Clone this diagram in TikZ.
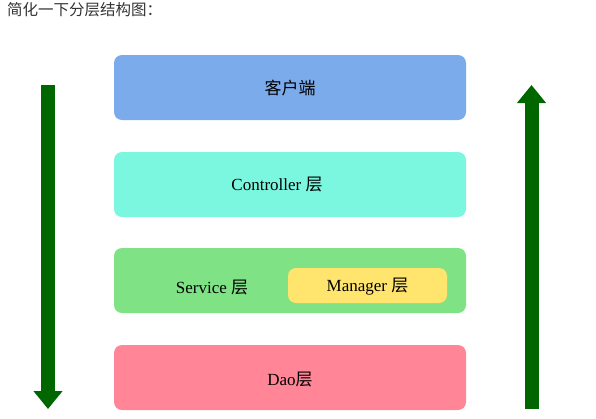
\documentclass[tikz,border=0pt]{standalone}
\usepackage{fontspec}
\setmainfont{Liberation Serif}
\newfontfamily\cjk{Noto Sans CJK SC}
\usetikzlibrary{arrows.meta}
\definecolor{cblue}{HTML}{7BABEB}
\definecolor{ccyan}{HTML}{7CF7DF}
\definecolor{cgreen}{HTML}{7FE385}
\definecolor{cyellow}{HTML}{FFE46E}
\definecolor{cpink}{HTML}{FF8597}
\definecolor{darr}{HTML}{006600}
\definecolor{ttl}{HTML}{333333}
\tikzset{
  layer/.style={rounded corners=8pt, minimum width=352pt, minimum height=65pt, inner sep=0pt},
  lbl/.style={font=\fontsize{17}{19}\selectfont, text=black},
  bigarrow/.style={draw=darr, line width=14pt, -{Triangle[width=28pt,length=18pt]}},
}
\begin{document}
\begin{tikzpicture}[x=1pt,y=-1pt]
\useasboundingbox (0,0) rectangle (596,418);
\node[anchor=west, text=ttl, font=\cjk\fontsize{15.5}{17}\selectfont, inner sep=0pt] (title) at (7,10) {简化一下分层结构图：};
\node[layer, fill=cblue] (client) at (290,87.5) {};
\node[lbl] (clientt) at (290,88) {\cjk 客户端};
\node[layer, fill=ccyan] (ctrl) at (290,184.5) {};
\node[lbl] (ctrlt) at (277,185) {Controller {\cjk 层}};
\node[layer, fill=cgreen] (svc) at (290,280.5) {};
\node[lbl] (svct) at (212,287.5) {Service {\cjk 层}};
\node[rounded corners=8pt, fill=cyellow, minimum width=159pt, minimum height=35pt, inner sep=0pt] (mgr) at (367.5,285.5) {};
\node[lbl] (mgrt) at (367.5,287) {Manager {\cjk 层}};
\node[layer, fill=cpink] (dao) at (290,377.5) {};
\node[lbl] (daot) at (290,379.5) {Dao{\cjk 层}};
\coordinate (ls) at (48,85);
\coordinate (le) at (48,409);
\coordinate (rs) at (531.5,409);
\coordinate (re) at (531.5,85);
\draw[bigarrow] (ls) -- (le);
\draw[bigarrow] (rs) -- (re);
\end{tikzpicture}
\end{document}
